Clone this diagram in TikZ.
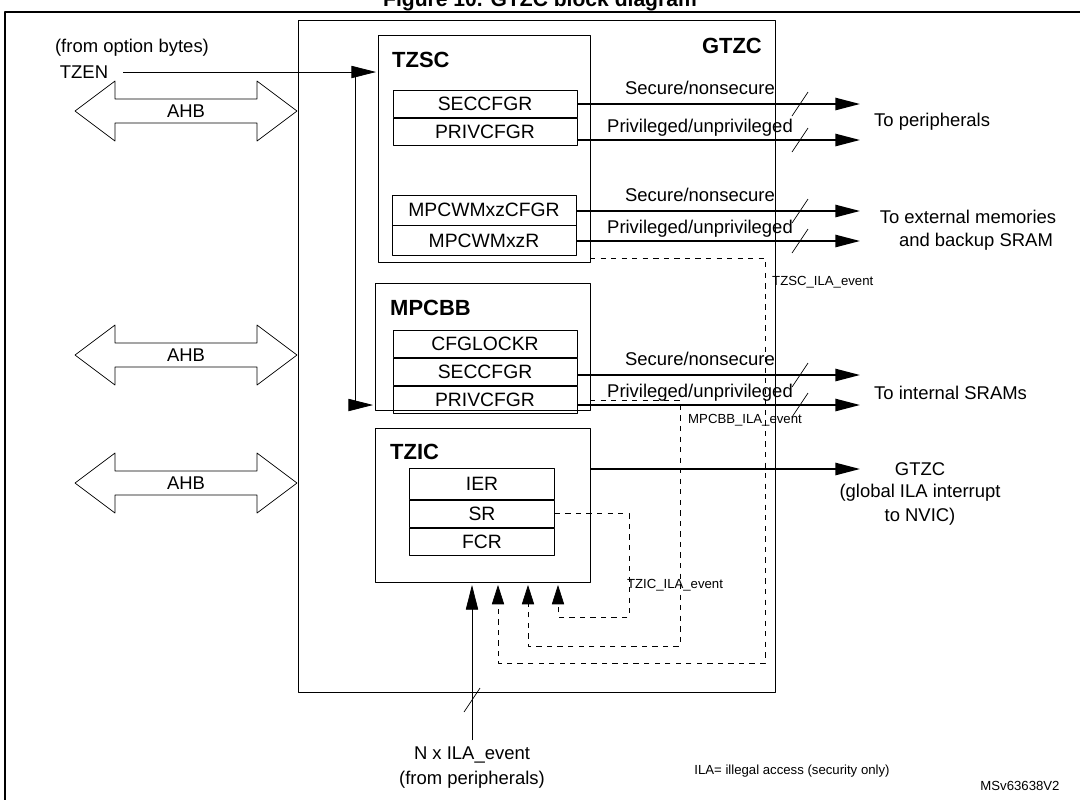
\documentclass[tikz,border=0pt]{standalone}
\usepackage{fontspec}
\setmainfont{Liberation Sans}
\usetikzlibrary{arrows.meta,calc,positioning}
\tikzset{
  reg/.style={draw,minimum width=3.68cm,minimum height=0.54cm,inner sep=0pt,font=\fontsize{11}{13}\selectfont},
  ttl/.style={font=\bfseries\fontsize{12.5}{14}\selectfont,anchor=west},
  sig/.style={-{Triangle[length=14pt,width=7pt]},line width=0.9pt},
  ila/.style={dashed,thin,-{Triangle[length=11pt,width=7pt]}},
  lbl/.style={font=\fontsize{10.5}{12}\selectfont},
  sml/.style={font=\fontsize{7.5}{9}\selectfont},
}
\newcommand{\ahb}[1]{%
  \draw[fill=white] (75,#1) -- ++(40,-30) -- ++(0,18) -- (257,#1-12) -- ++(0,-18) -- (297,#1) -- (257,#1+30) -- ++(0,-18) -- (115,#1+12) -- ++(0,18) -- cycle;
  \node[lbl] at (186,#1) {AHB};}
\newcommand{\buswidth}[2]{\draw[thin] (#1-8,#2+12) -- (#1+8,#2-12);}
\begin{document}
\begin{tikzpicture}[x=0.02cm,y=-0.02cm,line join=round]
\useasboundingbox (0,0) rectangle (1080,799);
\clip (0,0) rectangle (1080,799);
\node[font=\bfseries\fontsize{12}{14}\selectfont] at (540,1) {Figure 10. GTZC block diagram};
\draw[line width=1.2pt] (5,805) -- (5,12) -- (1090,12);
% GTZC frame
\draw[thin] (298,20) rectangle (775,692);
\node[ttl,anchor=east] at (768,46) {GTZC};
% TZSC
\draw[thin] (378,35) rectangle (590,262);
\node[ttl] at (386,60) {TZSC};
\node[reg] (sec1) at (485,104) {SECCFGR};
\node[reg,below=0pt of sec1] (priv1) {PRIVCFGR};
\node[reg,minimum height=0.6cm] (mpcw) at (484,210) {MPCWMxzCFGR};
\node[reg,minimum height=0.6cm,below=0pt of mpcw] (mpcr) {MPCWMxzR};
% MPCBB
\draw[thin] (375,283) rectangle (590,410);
\node[ttl] at (384,308) {MPCBB};
\node[reg] (lock) at (485,344) {CFGLOCKR};
\node[reg,below=0pt of lock] (sec2) {SECCFGR};
\node[reg,below=0pt of sec2] (priv2) {PRIVCFGR};
% TZIC
\draw[thin] (375,428) rectangle (590,582);
\node[ttl] at (384,452) {TZIC};
\node[reg,minimum width=2.9cm,minimum height=0.62cm] (ier) at (482,484) {IER};
\node[reg,minimum width=2.9cm,below=0pt of ier] (sr) {SR};
\node[reg,minimum width=2.9cm,below=0pt of sr] (fcr) {FCR};
% TZEN
\node[lbl] at (132,48) {(from option bytes)};
\node[lbl] (tzen) at (84,72) {TZEN};
\coordinate (tzc) at (355,72);
\draw[thin] (123,72) -- (tzc) -- (355,405);
\draw[sig,thin] (tzc) -- (376,72);
\draw[sig,thin] (355,405) -- (373,405);
% AHB
\ahb{111}\ahb{355}\ahb{483}
% outputs
\foreach \ya/\yb/\xs in {104/140/577,211/241/577,375/405/577}{
  \draw[sig] (\xs,\ya) -- (860,\ya);
  \draw[sig] (\xs,\yb) -- (860,\yb);
  \buswidth{800}{\ya}\buswidth{800}{\yb}
  \node[lbl] at (700,\ya-16) {Secure/nonsecure};
  \node[lbl] at (700,\yb-12) {Privileged/unprivileged};
}
\node[lbl,anchor=west] at (868,122) {To peripherals};
\node[lbl] at (968,217) {To external memories};
\node[lbl] at (976,242) {and backup SRAM};
\node[lbl,anchor=west] at (868,393) {To internal SRAMs};
\draw[sig] (590,469) -- (860,469);
\node[lbl] at (920,469) {GTZC};
\node[lbl] at (920,493) {(global ILA interrupt};
\node[lbl] at (920,517) {to NVIC)};
% ILA events
\draw[ila] (590,258) -| (765,663) -| (498,585);
\node[sml,anchor=west] at (766,282) {TZSC\_ILA\_event};
\draw[ila] (590,400) -| (680,646) -| (528,585);
\node[sml] at (745,420) {MPCBB\_ILA\_event};
\draw[ila] (sr.east) -| (629,617) -| (558,585);
\node[sml] at (675,585) {TZIC\_ILA\_event};
\draw[sig,thin] (472,740) -- (472,585);
\buswidth{472}{700}
\node[lbl] at (472,755) {N x ILA\_event};
\node[lbl] at (472,780) {(from peripherals)};
\node[sml] at (792,771) {ILA= illegal access (security only)};
\node[sml] at (1020,786) {MSv63638V2};
\end{tikzpicture}
\end{document}
